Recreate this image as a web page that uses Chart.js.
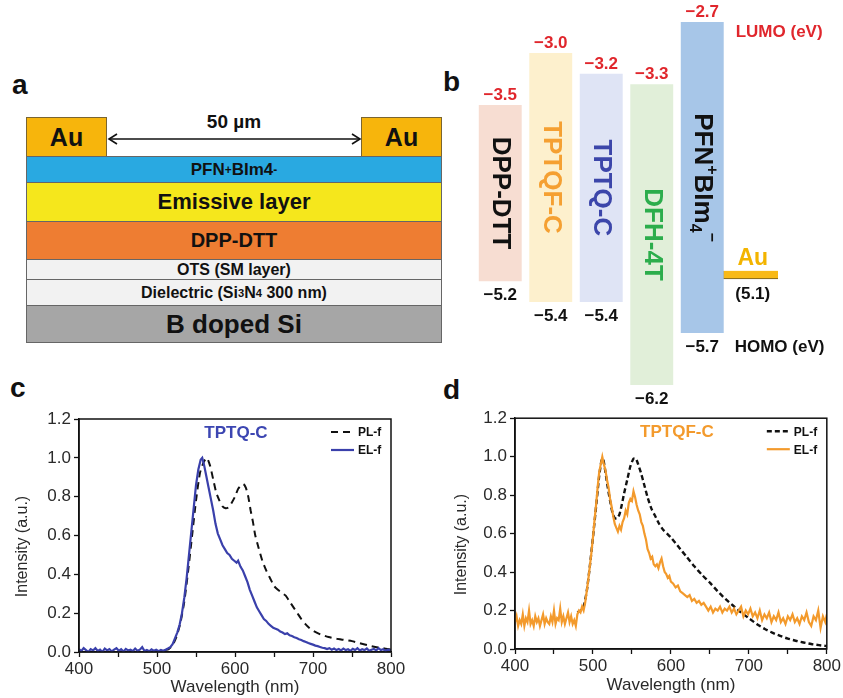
<!DOCTYPE html>
<html>
<head>
<meta charset="utf-8">
<script src="https://cdn.jsdelivr.net/npm/chart.js@4.4.1/dist/chart.umd.min.js"></script>
<style>
  body { margin: 0; width: 843px; height: 698px; position: relative; overflow: hidden; background: #fff;
         font-family: "Liberation Sans", Arial, sans-serif; color: #111; }
  .panel { position: absolute; font-weight: bold; font-size: 28px; line-height: 28px; }
  .abs { position: absolute; }
  .pad { position: absolute; top: 117px; width: 81px; height: 39px; box-sizing: border-box; background: #f7b50c;
         border: 1px solid #7a6530; border-bottom: none; display: flex; align-items: center; justify-content: center;
         font-weight: bold; font-size: 25px; }
  .stack { position: absolute; left: 26px; top: 156px; width: 416px; border: 1px solid #666; border-top: 1px solid #666;
           box-sizing: border-box; }
  .layer { box-sizing: border-box; border-bottom: 1px solid #666; display: flex; align-items: center;
           justify-content: center; font-weight: bold; }
  .layer:last-child { border-bottom: none; }
  .layer sup, .layer sub { font-size: 70%; }
  canvas { position: absolute; }
</style>
</head>
<body>
  <div class="panel" style="left:12px;top:71px;">a</div>
  <div class="panel" style="left:443px;top:68px;">b</div>
  <div class="panel" style="left:10px;top:374px;">c</div>
  <div class="panel" style="left:443px;top:376px;">d</div>

  <!-- panel a: device stack -->
  <div class="pad" style="left:26px;">Au</div>
  <div class="pad" style="left:361px;">Au</div>
  <div class="abs" style="left:134px;top:111px;width:200px;text-align:center;font-weight:bold;font-size:19px;">50 µm</div>
  <svg class="abs" style="left:100px;top:130px;" width="270" height="18">
    <line x1="9" y1="9" x2="260" y2="9" stroke="#111" stroke-width="1.6"/>
    <polyline points="17,4 9,9 17,14" fill="none" stroke="#111" stroke-width="1.6"/>
    <polyline points="252,4 260,9 252,14" fill="none" stroke="#111" stroke-width="1.6"/>
  </svg>
  <div class="stack">
    <div class="layer" style="height:26px;background:#29a9e1;font-size:17px;">PFN<sup>+</sup>BIm4<sup>-</sup></div>
    <div class="layer" style="height:39px;background:#f5e71c;font-size:22px;">Emissive layer</div>
    <div class="layer" style="height:38px;background:#ee7d32;font-size:20px;">DPP-DTT</div>
    <div class="layer" style="height:20px;background:#f2f2f2;font-size:16px;">OTS (SM layer)</div>
    <div class="layer" style="height:26px;background:#f2f2f2;font-size:16px;">Dielectric (Si<sub>3</sub>N<sub>4</sub>&nbsp;300 nm)</div>
    <div class="layer" style="height:36px;background:#a6a6a6;font-size:26px;">B doped Si</div>
  </div>

  <canvas id="chartLevels" width="400" height="410" style="left:443px;top:0;"></canvas>
  <canvas id="chartTPTQ" width="410" height="293" style="left:0;top:405px;"></canvas>
  <canvas id="chartTPTQF" width="407" height="293" style="left:436px;top:405px;"></canvas>

<script>
// ---- panel b: energy levels (eV) ----
const materialNames = ["DPP-DTT", "TPTQF-C", "TPTQ-C", "DFH-4T", "PFN^{+}BIm_{4}^{−}"];
const lumoLevels = [-3.5, -3.0, -3.2, -3.3, -2.7];
const homoLevels = [-5.2, -5.4, -5.4, -6.2, -5.7];
const auWorkFunction = 5.1;

// ---- panel c: TPTQ-C spectra ----
const tptqElWave = [400,403,406,409,412,415,418,421,424,427,430,433,436,439,442,445,448,451,454,457,460,463,466,469,472,475,478,481,484,487,490,493,496,499,502,505,508,511,514,517,520,523,526,529,532,535,538,541,544,547,550,553,556,558,560,563,566,569,572,575,578,581,584,587,590,593,596,599,602,604,607,610,613,616,619,622,625,628,631,634,637,640,643,646,649,652,655,658,661,664,667,670,673,676,679,682,685,688,691,694,697,700,703,706,709,712,715,718,721,724,727,730,733,736,739,742,745,748,751,754,757,760,763,766,769,772,775,778,781,784,787,790,793,796,800];
const tptqElInt = [0.015,0.005,0.02,0.01,0.0,0.015,0.008,0.02,0.005,0.012,0.0,0.018,0.008,0.015,0.003,0.012,0.02,0.006,0.014,0.002,0.016,0.008,0.012,0.004,0.018,0.006,0.012,0.025,0.005,0.01,0.004,0.014,0.006,0.012,0.004,0.01,0.006,0.012,0.018,0.025,0.04,0.07,0.1,0.14,0.2,0.28,0.38,0.5,0.62,0.74,0.86,0.94,0.99,1.0,0.97,0.91,0.85,0.79,0.73,0.66,0.61,0.58,0.55,0.53,0.51,0.5,0.48,0.47,0.46,0.47,0.44,0.42,0.39,0.36,0.32,0.29,0.26,0.23,0.21,0.19,0.17,0.16,0.145,0.135,0.125,0.12,0.115,0.105,0.1,0.092,0.096,0.086,0.082,0.076,0.072,0.066,0.062,0.056,0.052,0.046,0.042,0.038,0.033,0.03,0.026,0.022,0.02,0.015,0.02,0.012,0.018,0.01,0.015,0.008,0.018,0.01,0.014,0.006,0.016,0.01,0.02,0.008,0.014,0.01,0.018,0.006,0.012,0.016,0.008,0.02,0.01,0.014,0.006,0.012,0.01];
const tptqPlWave = [510,515,520,525,530,535,540,545,550,555,560,564,568,572,576,580,584,588,592,596,600,604,608,611,614,617,620,623,626,630,635,640,645,650,655,660,665,670,675,680,685,690,695,700,710,720,730,740,750,760,770,780,790,800];
const tptqPlInt = [0.01,0.015,0.035,0.08,0.15,0.26,0.42,0.6,0.78,0.92,0.98,1.0,0.96,0.89,0.82,0.78,0.75,0.74,0.745,0.77,0.8,0.84,0.86,0.865,0.845,0.8,0.73,0.67,0.6,0.54,0.47,0.42,0.38,0.34,0.32,0.305,0.29,0.26,0.23,0.2,0.17,0.145,0.125,0.11,0.09,0.077,0.068,0.062,0.056,0.045,0.035,0.026,0.02,0.012];

// ---- panel d: TPTQF-C spectra ----
const tptqfElWave = [400,402,404,406,408,410,412,414,416,418,420,422,424,426,428,430,432,434,436,438,440,442,444,446,448,450,452,454,456,458,460,462,464,466,468,470,472,474,476,478,480,482,484,486,488,490,492,494,496,498,500,502,504,506,508,510,512,514,516,518,520,522,524,526,528,530,532,534,536,538,540,542,544,546,548,550,552,554,556,558,560,562,564,566,568,570,572,574,576,578,580,582,584,586,588,590,592,594,596,598,600,603,606,609,612,615,618,621,624,627,630,633,636,639,642,645,648,651,654,657,660,663,666,669,672,675,678,681,684,687,690,693,696,699,702,705,708,711,714,717,720,723,726,729,732,735,738,741,744,747,750,753,756,759,762,765,768,771,774,777,780,783,786,789,792,795,798,800];
const tptqfElInt = [0.14,0.17,0.12,0.15,0.13,0.18,0.12,0.16,0.14,0.2,0.13,0.15,0.12,0.17,0.14,0.16,0.12,0.15,0.18,0.13,0.16,0.14,0.13,0.17,0.14,0.2,0.13,0.16,0.15,0.21,0.14,0.17,0.13,0.16,0.19,0.14,0.17,0.13,0.15,0.12,0.18,0.2,0.19,0.22,0.2,0.24,0.3,0.36,0.43,0.5,0.58,0.67,0.75,0.84,0.92,0.96,1.0,0.96,0.93,0.88,0.84,0.78,0.74,0.69,0.65,0.63,0.61,0.64,0.62,0.66,0.68,0.72,0.7,0.76,0.78,0.77,0.82,0.79,0.75,0.72,0.7,0.66,0.64,0.6,0.57,0.52,0.5,0.47,0.48,0.44,0.43,0.44,0.42,0.45,0.47,0.43,0.4,0.39,0.37,0.38,0.35,0.34,0.32,0.33,0.3,0.29,0.28,0.27,0.28,0.25,0.26,0.24,0.25,0.23,0.24,0.22,0.2,0.22,0.19,0.21,0.2,0.22,0.19,0.21,0.2,0.22,0.19,0.21,0.18,0.2,0.22,0.17,0.2,0.18,0.21,0.17,0.19,0.16,0.2,0.15,0.18,0.16,0.19,0.14,0.17,0.15,0.19,0.14,0.16,0.13,0.17,0.15,0.18,0.14,0.16,0.13,0.17,0.15,0.19,0.14,0.12,0.17,0.15,0.2,0.11,0.17,0.14,0.18];
const tptqfPlWave = [480,484,488,492,496,500,504,508,511,513,516,519,522,525,528,531,534,537,540,544,548,552,555,558,562,566,570,575,580,585,590,595,600,610,620,630,640,650,660,670,680,690,700,710,720,730,740,750,760,770,780,790,800];
const tptqfPlInt = [0.19,0.2,0.22,0.3,0.43,0.58,0.74,0.9,0.98,0.99,0.92,0.84,0.77,0.71,0.68,0.68,0.7,0.75,0.81,0.88,0.95,0.99,0.99,0.96,0.91,0.85,0.79,0.73,0.69,0.65,0.62,0.6,0.58,0.53,0.48,0.43,0.385,0.345,0.3,0.26,0.225,0.19,0.16,0.13,0.105,0.085,0.068,0.054,0.043,0.034,0.026,0.02,0.015];

const FONT = '"Liberation Sans", Arial, sans-serif';
Chart.defaults.font.family = FONT;
Chart.defaults.color = "#2a2a2a";

function toPoints(xs, ys) {
  return xs.map((x, i) => ({ x: x, y: ys[i] }));
}

function fmtEnergy(v) {
  return v.toFixed(1).replace("-", "\u2212");
}

// draws a label like "PFN^{+}BIm_{4}^{−}" rotated 90deg, centred on (cx, cy)
function drawRotatedName(ctx, text, cx, cy, color) {
  const parts = text.match(/\^\{[^}]*\}|_\{[^}]*\}|[^^_]+/g).map((p) => {
    if (p[0] === "^") return { t: p.slice(2, -1), dy: -9, small: true };
    if (p[0] === "_") return { t: p.slice(2, -1), dy: 8, small: true };
    return { t: p, dy: 0, small: false };
  });
  const big = "bold 26px " + FONT;
  const small = "bold 16px " + FONT;
  let total = 0;
  parts.forEach((p) => {
    ctx.font = p.small ? small : big;
    p.w = ctx.measureText(p.t).width;
    total += p.w;
  });
  ctx.save();
  ctx.translate(cx, cy);
  ctx.rotate(Math.PI / 2);
  ctx.fillStyle = color;
  ctx.textAlign = "left";
  ctx.textBaseline = "middle";
  let x = -total / 2;
  parts.forEach((p) => {
    ctx.font = p.small ? small : big;
    ctx.fillText(p.t, x, p.dy);
    x += p.w;
  });
  ctx.restore();
}

const levelLabels = {
  id: "levelLabels",
  afterDatasetsDraw(chart) {
    const ctx = chart.ctx;
    const bars = chart.getDatasetMeta(0).data;
    const nameColors = ["#111", "#f5a032", "#3c46aa", "#2cad4c", "#111"];
    ctx.save();
    ctx.textBaseline = "middle";
    bars.forEach((bar, i) => {
      if (i >= materialNames.length) return;
      const p = bar.getProps(["x", "y", "base", "width"], true);
      const top = Math.min(p.y, p.base);
      const bottom = Math.max(p.y, p.base);
      ctx.font = "bold 17px " + FONT;
      ctx.textAlign = "center";
      ctx.fillStyle = "#e0262c";
      ctx.fillText(fmtEnergy(lumoLevels[i]), p.x, top - 10);
      ctx.fillStyle = "#111";
      ctx.fillText(fmtEnergy(homoLevels[i]), p.x, bottom + 14);
      drawRotatedName(ctx, materialNames[i], p.x, (top + bottom) / 2, nameColors[i]);
      if (i === materialNames.length - 1) {
        ctx.font = "bold 17px " + FONT;
        ctx.textAlign = "left";
        ctx.fillStyle = "#e0262c";
        ctx.fillText("LUMO (eV)", p.x + p.width / 2 + 12, top + 10);
        ctx.fillStyle = "#111";
        ctx.fillText("HOMO (eV)", p.x + p.width / 2 + 11, bottom + 14);
      }
    });
    const au = chart.getDatasetMeta(1).data[materialNames.length];
    if (au) {
      const p = au.getProps(["x", "y", "base"], true);
      const top = Math.min(p.y, p.base);
      const bottom = Math.max(p.y, p.base);
      ctx.textAlign = "center";
      ctx.font = "bold 23px " + FONT;
      ctx.fillStyle = "#f3b400";
      ctx.fillText("Au", p.x, top - 12);
      ctx.font = "bold 17px " + FONT;
      ctx.fillStyle = "#111";
      ctx.fillText("(" + auWorkFunction.toFixed(1) + ")", p.x, bottom + 15);
    }
    ctx.restore();
  },
};

function makeLevelChart(canvasId) {
  const el = document.getElementById(canvasId);
  if (!el || typeof Chart === "undefined") return null;
  const cats = materialNames.concat(["Au"]);
  const bandData = materialNames.map((n, i) => [homoLevels[i], lumoLevels[i]]).concat([null]);
  const auData = materialNames.map(() => null).concat([[-auWorkFunction, -auWorkFunction]]);

  return new Chart(el, {
    type: "bar",
    data: {
      labels: cats,
      datasets: [
        {
          data: bandData,
          backgroundColor: ["#f7ddd2", "#fdf0cd", "#dfe4f5", "#e1efd9", "#a7c6e8", "#fff"],
          borderWidth: 0,
          barPercentage: 0.85,
          categoryPercentage: 1,
        },
        {
          data: auData,
          backgroundColor: "#f8b916",
          borderColor: "#6e5a1e",
          borderWidth: 1,
          barThickness: 60,
          minBarLength: 8,
        },
      ],
    },
    options: {
      responsive: false,
      animation: false,
      events: [],
      layout: { padding: { left: 32, right: 65, top: 0, bottom: 0 } },
      plugins: { legend: { display: false }, tooltip: { enabled: false } },
      scales: {
        x: { display: false, stacked: true },
        y: { display: false, min: -6.442, max: -2.488 },
      },
    },
    plugins: [levelLabels],
  });
}

const spectrumDecor = {
  id: "spectrumDecor",
  afterDatasetsDraw(chart, args, opts) {
    const ctx = chart.ctx;
    const a = chart.chartArea;
    ctx.save();
    ctx.strokeStyle = "#111";
    ctx.lineWidth = 1.5;
    ctx.strokeRect(a.left, a.top, a.right - a.left, a.bottom - a.top);

    ctx.font = "bold 17px " + FONT;
    ctx.fillStyle = opts.titleColor;
    ctx.textAlign = "center";
    ctx.textBaseline = "middle";
    ctx.fillText(opts.title, (a.left + a.right) / 2 + opts.titleShift, a.top + 14);

    // y axis title, sits a little below the plot centre as in the figure
    ctx.save();
    ctx.translate(opts.yTitleX, (a.top + a.bottom) / 2 + 11);
    ctx.rotate(-Math.PI / 2);
    ctx.font = "16px " + FONT;
    ctx.fillStyle = "#2a2a2a";
    ctx.fillText("Intensity (a.u.)", 0, 0);
    ctx.restore();

    const ds = chart.data.datasets;
    ctx.font = "bold 12px " + FONT;
    ctx.textAlign = "left";
    [ds[1], ds[0]].forEach((d, i) => {
      const y = a.top + 13 + i * 18;
      ctx.strokeStyle = d.borderColor;
      ctx.lineWidth = d.borderWidth;
      ctx.setLineDash(d.borderDash || []);
      ctx.beginPath();
      ctx.moveTo(a.right - 60, y);
      ctx.lineTo(a.right - 37, y);
      ctx.stroke();
      ctx.setLineDash([]);
      ctx.fillStyle = "#111";
      ctx.fillText(d.label, a.right - 33, y + 1);
    });
    ctx.restore();
  },
};

function makeSpectrumChart(canvasId, cfg) {
  const el = document.getElementById(canvasId);
  if (!el || typeof Chart === "undefined") return null;

  return new Chart(el, {
    type: "line",
    data: {
      datasets: [
        {
          label: "EL-f",
          data: toPoints(cfg.elWave, cfg.elInt),
          borderColor: cfg.elColor,
          borderWidth: 2.2,
          pointRadius: 0,
          tension: 0,
        },
        {
          label: "PL-f",
          data: toPoints(cfg.plWave, cfg.plInt),
          borderColor: "#111",
          borderWidth: cfg.plWidth,
          borderDash: cfg.plDash,
          pointRadius: 0,
          tension: 0.2,
        },
      ],
    },
    options: {
      responsive: false,
      animation: false,
      events: [],
      layout: { padding: cfg.padding },
      plugins: {
        legend: { display: false },
        tooltip: { enabled: false },
        spectrumDecor: { title: cfg.title, titleColor: cfg.titleColor, titleShift: cfg.titleShift, yTitleX: cfg.yTitleX },
      },
      scales: {
        x: {
          type: "linear",
          min: 400,
          max: 800,
          afterFit: (s) => { s.height = cfg.xHeight; },
          border: { color: "#111", width: 1.5 },
          grid: { drawOnChartArea: false, drawTicks: true, tickLength: 5, color: "#111", tickWidth: 1.3 },
          ticks: {
            stepSize: 50,
            maxRotation: 0,
            padding: 2,
            font: { size: 17 },
            callback: (v) => (v % 100 === 0 ? String(v) : ""),
          },
          title: { display: true, text: "Wavelength (nm)", font: { size: 17 }, padding: { top: 0, bottom: cfg.xTitlePad } },
        },
        y: {
          min: 0,
          max: 1.2,
          afterFit: (s) => { s.width = 79; },
          border: { color: "#111", width: 1.5 },
          grid: { drawOnChartArea: false, drawTicks: true, tickLength: 5, color: "#111", tickWidth: 1.3 },
          ticks: {
            stepSize: 0.1,
            padding: 3,
            font: { size: 17 },
            callback: (v) => (Math.round(v * 10) % 2 === 0 ? v.toFixed(1) : ""),
          },
        },
      },
    },
    plugins: [spectrumDecor],
  });
}

makeLevelChart("chartLevels");

makeSpectrumChart("chartTPTQ", {
  elWave: tptqElWave, elInt: tptqElInt, plWave: tptqPlWave, plInt: tptqPlInt,
  elColor: "#3a40ab", plDash: [7, 5], plWidth: 2,
  title: "TPTQ-C", titleColor: "#3c46b2", titleShift: 1,
  padding: { left: 0, right: 19, top: 14, bottom: 0 }, xHeight: 46, xTitlePad: 0, yTitleX: 23,
});

makeSpectrumChart("chartTPTQF", {
  elWave: tptqfElWave, elInt: tptqfElInt, plWave: tptqfPlWave, plInt: tptqfPlInt,
  elColor: "#f39a2c", plDash: [5, 3], plWidth: 2.4,
  title: "TPTQF-C", titleColor: "#f39a2c", titleShift: 6,
  padding: { left: 0, right: 15, top: 11, bottom: 0 }, xHeight: 49, xTitlePad: 2, yTitleX: 26,
});
</script>
</body>
</html>
